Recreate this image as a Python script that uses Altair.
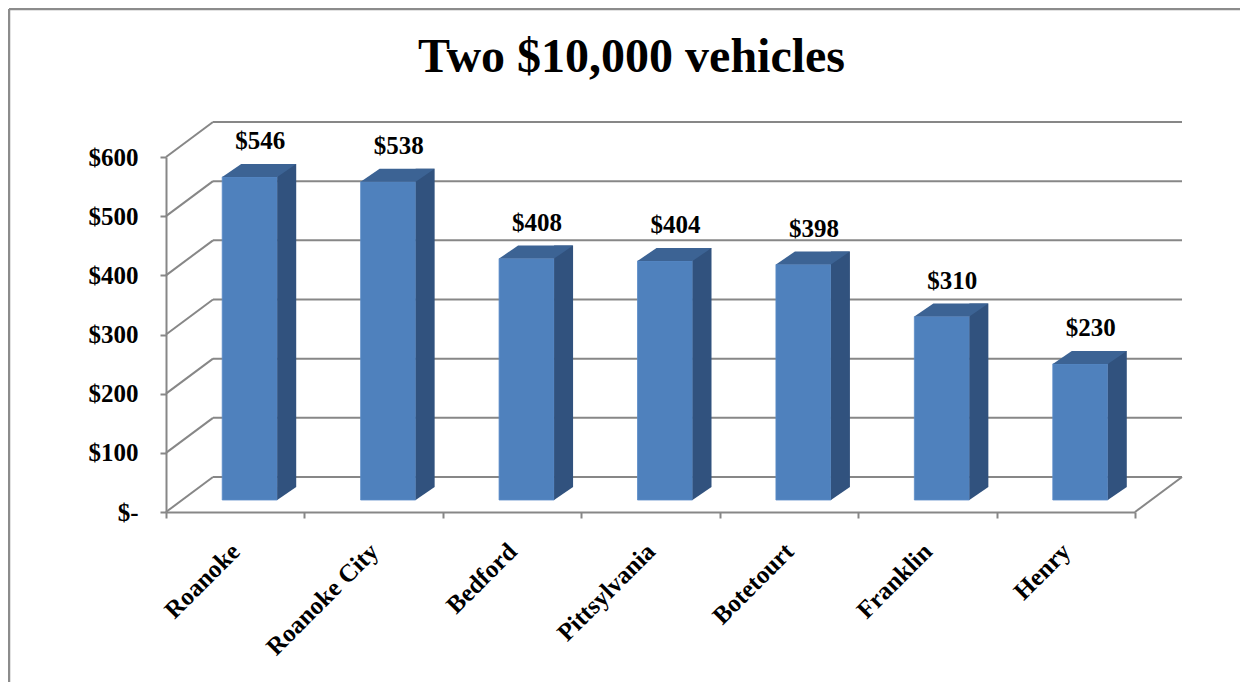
import altair as alt
import pandas as pd

# ---- data ----
counties = ["Roanoke", "Roanoke City", "Bedford", "Pittsylvania", "Botetourt", "Franklin", "Henry"]
taxes = [546, 538, 408, 404, 398, 310, 230]
tick_values = [0, 100, 200, 300, 400, 500, 600]

bars = pd.DataFrame({"county": counties, "tax": taxes})
grid = pd.DataFrame({"tick": tick_values})

# ---- layout / style constants ----
W, H = 969, 355
DEPTH_X, DEPTH_Y = 47, -35          # wall depth (px)
FRONT_DX, FRONT_DY = 14.5, -12      # bar front plane offset
BACK_DY = -25                        # bar back plane y offset
BAR_W, SIDE_W = 55, 19
FONT = "Liberation Serif"
GRID_COLOR = "#878787"
FRONT_C, SIDE_C, TOP_C = "#4F81BD", "#31527E", "#3C6394"
LABEL_SIZE = 25

yscale = alt.Scale(domain=[0, 600], nice=False, zero=True)
yaxis = alt.Axis(
    values=tick_values, title=None, grid=False,
    labelExpr="datum.value == 0 ? '$-\u00a0\u00a0\u00a0' : '$' + datum.value",
    labelFont=FONT, labelFontSize=LABEL_SIZE, labelFontWeight="bold", labelColor="black",
    labelPadding=22, tickSize=6, tickWidth=2, tickColor=GRID_COLOR,
    domainColor=GRID_COLOR, domainWidth=2,
)
xaxis = alt.Axis(
    title=None, labelAngle=-45, labelAlign="right", labelBaseline="middle",
    labelFont=FONT, labelFontSize=LABEL_SIZE, labelFontWeight="bold", labelColor="black",
    labelPadding=29, tickSize=6, tickWidth=2, tickColor=GRID_COLOR, tickBand="extent",
    domainColor=GRID_COLOR, domainWidth=2,
)
xenc = alt.X("county:N", sort=None, axis=xaxis,
             scale=alt.Scale(paddingInner=0, paddingOuter=0))
yenc = alt.Y("tax:Q", scale=yscale, axis=yaxis)

base_grid = alt.Chart(grid)

# left wall diagonals
left_wall = base_grid.mark_rule(color=GRID_COLOR, strokeWidth=2, y2Offset=DEPTH_Y).encode(
    y=alt.Y("tick:Q", scale=yscale, axis=yaxis),
    y2="tick:Q",
    x=alt.value(0), x2=alt.value(DEPTH_X),
)
# back wall gridlines
back_wall = base_grid.mark_rule(color=GRID_COLOR, strokeWidth=2, yOffset=DEPTH_Y).encode(
    y=alt.Y("tick:Q", scale=yscale, axis=yaxis),
    x=alt.value(DEPTH_X), x2=alt.value(W + DEPTH_X),
)
# right floor edge
floor_edge = base_grid.transform_filter("datum.tick == 0").mark_rule(
    color=GRID_COLOR, strokeWidth=2, y2Offset=DEPTH_Y
).encode(
    y=alt.Y("tick:Q", scale=yscale, axis=yaxis), y2="tick:Q",
    x=alt.value(W), x2=alt.value(W + DEPTH_X),
)

# chart frame (top and left border lines)
frame_top = base_grid.transform_filter("datum.tick == 0").mark_rule(
    color="#8c8c8c", strokeWidth=2.5
).encode(x=alt.value(-157), x2=alt.value(W + 120), y=alt.value(-148))
frame_left = base_grid.transform_filter("datum.tick == 0").mark_rule(
    color="#8c8c8c", strokeWidth=2.5
).encode(x=alt.value(-157), y=alt.value(-148), y2=alt.value(H + 190))

base = alt.Chart(bars)

front = base.mark_bar(
    color=FRONT_C, width=BAR_W, xOffset=FRONT_DX, yOffset=FRONT_DY, y2Offset=FRONT_DY,
    stroke="#5b8cc8", strokeWidth=0.8,
).encode(x=xenc, y=yenc)

side = base.mark_bar(
    color=SIDE_C, width=SIDE_W, xOffset=FRONT_DX + BAR_W / 2 + SIDE_W / 2,
    yOffset=BACK_DY, y2Offset=BACK_DY,
).encode(x=xenc, y=yenc)

# bottom triangle of the side face (symbol path, scale = sqrt(400)/2 = 10 px)
side_bottom = base.transform_calculate(zero="0").mark_point(
    shape="M0,0L0,-1.3L1.9,-1.3Z", size=400, filled=True, opacity=1,
    color=SIDE_C, strokeWidth=0,
    xOffset=FRONT_DX + BAR_W / 2, yOffset=FRONT_DY,
).encode(x=xenc, y=alt.Y("zero:Q", scale=yscale, axis=yaxis))

# top face parallelogram
top = base.mark_point(
    shape="M0,0L5.5,0L7.4,-1.3L1.9,-1.3Z", size=400, filled=True, opacity=1,
    color=TOP_C, strokeWidth=0,
    xOffset=FRONT_DX - BAR_W / 2, yOffset=FRONT_DY,
).encode(x=xenc, y=yenc)

labels = base.mark_text(
    font=FONT, fontSize=LABEL_SIZE, fontWeight="bold", color="black",
    dx=25, dy=-40, baseline="alphabetic", align="center",
).encode(x=xenc, y=yenc, text=alt.Text("tax:Q", format="$.0f"))

chart = alt.layer(
    frame_top, frame_left, left_wall, back_wall, floor_edge,
    front, side, side_bottom, top, labels,
).properties(
    width=W, height=H,
    padding={"left": 158, "top": 149, "right": 105, "bottom": 170},
    autosize=alt.AutoSizeParams(type="none"),
    background="white",
    title=alt.TitleParams(
        "Two $10,000 vehicles", font=FONT, fontSize=48, fontWeight="bold",
        color="black", anchor="middle", frame="group", baseline="alphabetic",
        offset=-112, dx=-19,
    ),
).configure_view(stroke=None, strokeWidth=0)

chart.save("out.html", embed_options={"renderer": "svg", "actions": False})
